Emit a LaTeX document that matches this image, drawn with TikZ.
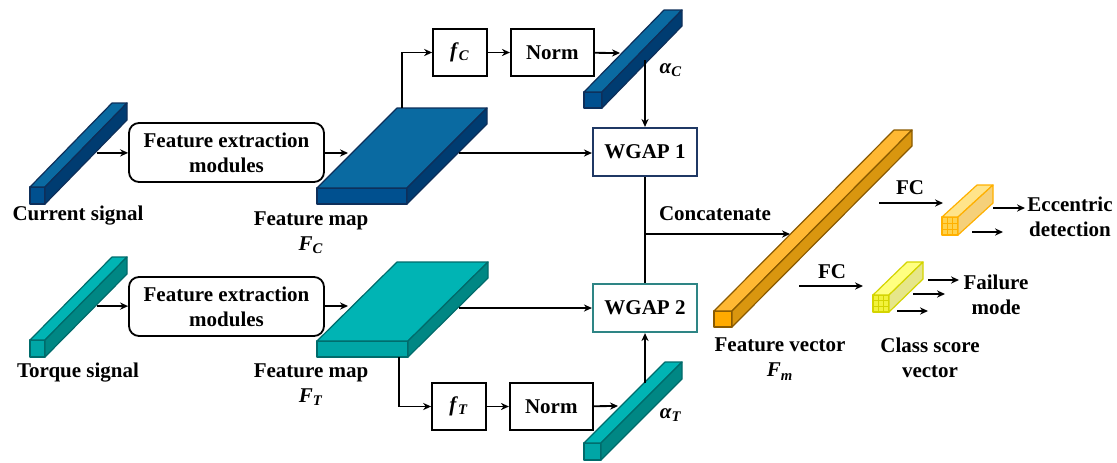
\documentclass[tikz,border=0pt]{standalone}
\usepackage{fontspec}
\setmainfont{Liberation Serif}
\usetikzlibrary{
  arrows.meta,
  positioning
}
\definecolor{curTop}{HTML}{0A6AA1}
\definecolor{curSide}{HTML}{003C71}
\definecolor{curFront}{HTML}{00508F}
\definecolor{curLine}{HTML}{0E2F5A}
\definecolor{torTop}{HTML}{00B4B4}
\definecolor{torSide}{HTML}{008784}
\definecolor{torFront}{HTML}{00A6A6}
\definecolor{torLine}{HTML}{006B6B}
\definecolor{vecTop}{HTML}{FFB833}
\definecolor{vecSide}{HTML}{D9960F}
\definecolor{vecFront}{HTML}{FFAA00}
\definecolor{vecLine}{HTML}{8A5A00}
\definecolor{eccTop}{HTML}{FFE48A}
\definecolor{eccSide}{HTML}{F5D07A}
\definecolor{eccFront}{HTML}{FFD24D}
\definecolor{eccLine}{HTML}{FFB000}
\definecolor{failTop}{HTML}{FFFF80}
\definecolor{failSide}{HTML}{E6E68A}
\definecolor{failFront}{HTML}{F2F23C}
\definecolor{failLine}{HTML}{D4D400}
\definecolor{wgapC}{HTML}{1F3864}
\definecolor{wgapT}{HTML}{2E8585}

\tikzset{
  every node/.style={font=\fontsize{10.5}{12.5}\selectfont\bfseries, align=center},
  block/.style={draw, line width=0.9pt, inner sep=0pt},
  module/.style={block, rounded corners=5pt, minimum width=97.5pt, minimum height=29.5pt},
  fbox/.style={block, minimum width=27pt, minimum height=23.5pt},
  normbox/.style={block, minimum width=41.5pt, minimum height=23.5pt},
  wgap/.style={block, fill=white, line width=1.1pt, minimum width=52pt, minimum height=24pt},
  link/.style={line width=0.9pt, -{Stealth[length=4pt,width=3.6pt]}},
  plain/.style={line width=0.9pt},
  face/.style={line width=0.6pt, line join=round},
}
% colour sets for the 3d bars: <set> front / top / side
\tikzset{
  cur front/.style={face, fill=curFront, draw=curLine},
  cur top/.style={face, fill=curTop, draw=curLine},
  cur side/.style={face, fill=curSide, draw=curLine},
  tor front/.style={face, fill=torFront, draw=torLine},
  tor top/.style={face, fill=torTop, draw=torLine},
  tor side/.style={face, fill=torSide, draw=torLine},
  vec front/.style={face, fill=vecFront, draw=vecLine},
  vec top/.style={face, fill=vecTop, draw=vecLine},
  vec side/.style={face, fill=vecSide, draw=vecLine},
  ecc front/.style={face, fill=eccFront, draw=eccLine},
  ecc top/.style={face, fill=eccTop, draw=eccLine},
  ecc side/.style={face, fill=eccSide, draw=eccLine},
  fail front/.style={face, fill=failFront, draw=failLine},
  fail top/.style={face, fill=failTop, draw=failLine},
  fail side/.style={face, fill=failSide, draw=failLine},
}
% \bar3d{x}{y}{w}{h}{dx}{dy}{set}: front face top-left at (x,y)
\newcommand{\barthreed}[7]{%
  \filldraw[#7 front] (#1,#2) rectangle ++(#3,#4);
  \filldraw[#7 top] (#1,#2) -- ++(#3,0) -- ++(#5,#6) -- ++(-#3,0) -- cycle;
  \filldraw[#7 side] (#1+#3,#2) -- ++(#5,#6) -- ++(0,#4) -- (#1+#3,#2+#4) -- cycle;
}
\newcommand{\meshfront}[5]{%
  \foreach \k in {1,2} {
    \draw[#5, line width=0.3pt] (#1+\k*#3/3,#2) -- ++(0,#4);
    \draw[#5, line width=0.3pt] (#1,#2+\k*#4/3) -- ++(#3,0);
  }
}

\begin{document}
\begin{tikzpicture}[x=0.5pt, y=-0.5pt]
      \useasboundingbox (0,0) rectangle (1117,462);

      % bars
      \barthreed{30}{187}{15}{17}{82}{-84}{cur}
      \barthreed{30}{340}{15}{17}{82}{-83}{tor}
      \barthreed{317}{188}{90}{16}{80}{-80}{cur}
      \barthreed{317}{341}{91}{16}{80}{-79}{tor}
      \barthreed{584}{92}{18}{16}{80}{-82}{cur}
      \barthreed{584}{443}{17}{17}{81}{-81}{tor}
      \barthreed{714}{311}{18}{16}{180}{-181}{vec}
      \barthreed{942}{217}{16}{18}{35}{-32}{ecc}
      \meshfront{942}{217}{16}{18}{eccLine}
      \barthreed{873}{295}{16}{17}{34}{-33}{fail}
      \meshfront{873}{295}{16}{17}{failLine}

      % blocks
      \node (extC) [module] at (226.5,152.5) {Feature extraction\\modules};
      \node (extT) [module] at (226.5,306.5) {Feature extraction\\modules};
      \node (fC) [fbox] at (460,52.5) {\textit{f}\textsubscript{\textit{C}}};
      \node (normC) [normbox, right = 11pt of fC] {Norm};
      \node (fT) [fbox] at (459,406.5) {\textit{f}\textsubscript{\textit{T}}};
      \node (normT) [normbox, right = 11pt of fT] {Norm};
      \node (wgapA) [wgap, draw=wgapC] at (645,152) {WGAP 1};
      \node (wgapB) [wgap, draw=wgapT] at (645,308) {WGAP 2};

      % labels
      \node (curLbl) at (78,216) {Current signal};
      \node (torLbl) at (78,373) {Torque signal};
      \node (mapCLbl) at (311,232.5) {Feature map\\\textit{F}\textsubscript{\textit{C}}};
      \node (mapTLbl) at (311,384.5) {Feature map\\\textit{F}\textsubscript{\textit{T}}};
      \node (alphaC) at (671,70) {\textit{α}\textsubscript{\textit{C}}};
      \node (alphaT) at (671,415) {\textit{α}\textsubscript{\textit{T}}};
      \node (catLbl) at (715,214) {Concatenate};
      \node (vecLbl) at (780,359) {Feature vector\\\textit{F}\textsubscript{\textit{m}}};
      \node (fcA) at (910,188) {FC};
      \node (fcB) at (832,272) {FC};
      \node (eccLbl) at (1070,216.5) {Eccentric\\detection};
      \node (failLbl) at (996,294.5) {Failure\\mode};
      \node (clsLbl) at (930,358) {Class score\\vector};

      % connector ends on the bars
      \coordinate (sigC) at (97,153);
      \coordinate (sigT) at (97,306);
      \coordinate (mapCin) at (348,153);
      \coordinate (mapTin) at (348,306);
      \coordinate (mapCout) at (459,153);
      \coordinate (mapTout) at (459,308);
      \coordinate (mapCup) at (402,108);
      \coordinate (mapTdown) at (399,357);
      \coordinate (attCin) at (620,53);
      \coordinate (attTin) at (618,406);
      \coordinate (attCout) at (645,60);
      \coordinate (attTout) at (645,383);
      \coordinate (cat) at (645,234);
      \coordinate (vecIn) at (790,234);
      \coordinate (fcAs) at (879,203);
      \coordinate (fcAe) at (943,203);
      \coordinate (fcBs) at (799,286);
      \coordinate (fcBe) at (863,286);

      \draw[link] (sigC) -- (extC);
      \draw[link] (sigT) -- (extT);
      \draw[link] (extC) -- (mapCin);
      \draw[link] (extT.east |- mapTin) -- (mapTin);
      \draw[link] (mapCup) |- (fC);
      \draw[link] (fC) -- (normC);
      \draw[link] (normC) -- (attCin);
      \draw[link] (attCout) -- (wgapA);
      \draw[link] (mapCout) -- (wgapA.west |- mapCout);
      \draw[link] (mapTdown) |- (fT);
      \draw[link] (fT) -- (normT);
      \draw[link] (normT) -- (attTin);
      \draw[link] (attTout) -- (wgapB);
      \draw[link] (mapTout) -- (wgapB);
      \draw[plain] (wgapA) -- (wgapB);
      \draw[link] (cat) -- (vecIn);
      \draw[link] (fcAs) -- (fcAe);
      \draw[link] (fcBs) -- (fcBe);

      % outputs of the score vectors
      \coordinate (eA) at (993,208);
      \coordinate (eB) at (972,232);
      \coordinate (pA) at (928,280);
      \coordinate (pB) at (913,294);
      \coordinate (pC) at (897,311);
      \draw[link] (eA) -- ++(32,0);
      \draw[link] (eB) -- ++(31,0);
      \draw[link] (pA) -- ++(31,0);
      \draw[link] (pB) -- ++(32,0);
      \draw[link] (pC) -- ++(31,0);
    \end{tikzpicture}
\end{document}
